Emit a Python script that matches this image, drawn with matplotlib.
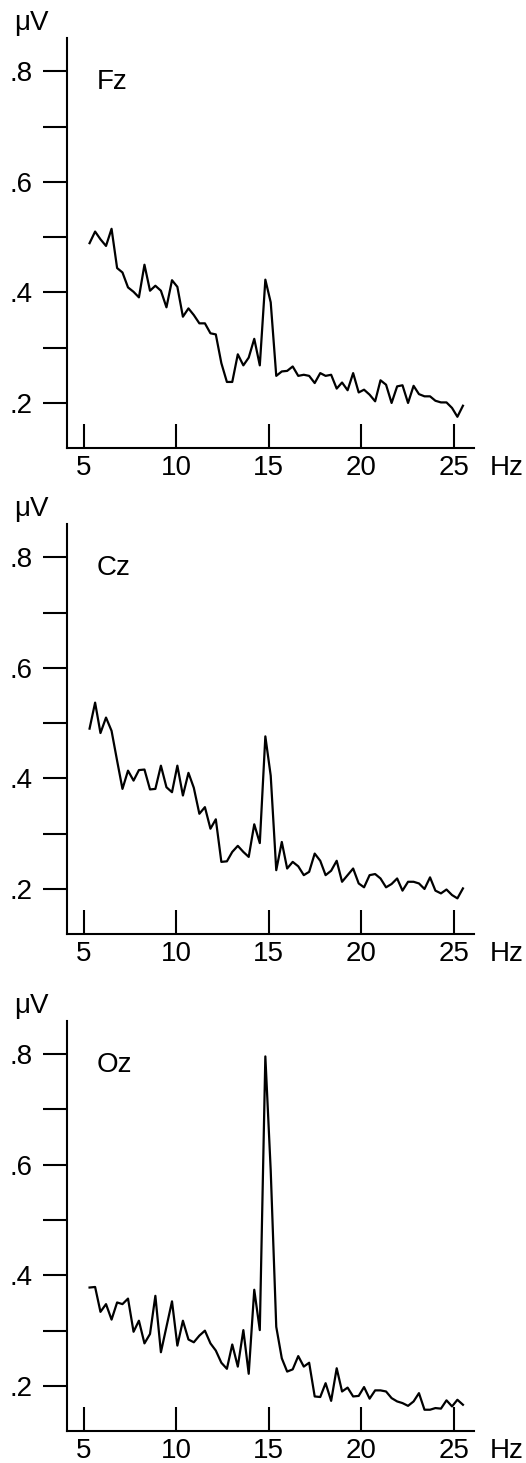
import matplotlib.pyplot as plt

plt.rcParams['font.family'] = ['Liberation Sans', 'DejaVu Sans']

# frequency bins (Hz)
freqs = [5.30, 5.60, 5.89, 6.19, 6.49, 6.79, 7.08, 7.38, 7.68, 7.97,
         8.27, 8.57, 8.86, 9.16, 9.46, 9.76, 10.05, 10.35, 10.65, 10.94,
         11.24, 11.54, 11.84, 12.13, 12.43, 12.73, 13.02, 13.32, 13.62, 13.91,
         14.21, 14.51, 14.81, 15.10, 15.40, 15.70, 15.99, 16.29, 16.59, 16.89,
         17.18, 17.48, 17.78, 18.07, 18.37, 18.67, 18.96, 19.26, 19.56, 19.86,
         20.15, 20.45, 20.75, 21.04, 21.34, 21.64, 21.94, 22.23, 22.53, 22.83,
         23.12, 23.42, 23.72, 24.01, 24.31, 24.61, 24.91, 25.20, 25.50]

# amplitude (uV) per electrode
fz = [0.489, 0.510, 0.496, 0.484, 0.515, 0.444, 0.436, 0.409, 0.401, 0.391,
      0.450, 0.403, 0.412, 0.403, 0.373, 0.422, 0.410, 0.356, 0.371, 0.359,
      0.344, 0.344, 0.326, 0.324, 0.272, 0.238, 0.238, 0.288, 0.268, 0.282,
      0.316, 0.268, 0.423, 0.382, 0.249, 0.257, 0.258, 0.266, 0.249, 0.251,
      0.249, 0.236, 0.254, 0.249, 0.251, 0.226, 0.237, 0.223, 0.254, 0.219,
      0.224, 0.215, 0.203, 0.241, 0.233, 0.200, 0.230, 0.232, 0.200, 0.231,
      0.216, 0.212, 0.212, 0.204, 0.201, 0.201, 0.191, 0.175, 0.195]

cz = [0.490, 0.537, 0.482, 0.510, 0.486, 0.432, 0.381, 0.414, 0.396, 0.415,
      0.416, 0.380, 0.381, 0.423, 0.384, 0.375, 0.423, 0.369, 0.410, 0.383,
      0.336, 0.348, 0.309, 0.326, 0.249, 0.250, 0.267, 0.278, 0.267, 0.258,
      0.317, 0.283, 0.476, 0.405, 0.234, 0.285, 0.237, 0.249, 0.241, 0.225,
      0.231, 0.264, 0.251, 0.225, 0.233, 0.251, 0.213, 0.225, 0.237, 0.210,
      0.203, 0.225, 0.227, 0.219, 0.203, 0.209, 0.219, 0.197, 0.213, 0.213,
      0.210, 0.200, 0.221, 0.197, 0.192, 0.199, 0.189, 0.183, 0.201]

oz = [0.378, 0.379, 0.334, 0.348, 0.320, 0.351, 0.348, 0.358, 0.298, 0.318,
      0.277, 0.294, 0.363, 0.261, 0.307, 0.353, 0.273, 0.318, 0.284, 0.279,
      0.291, 0.300, 0.277, 0.264, 0.242, 0.231, 0.275, 0.235, 0.301, 0.222,
      0.374, 0.301, 0.796, 0.590, 0.307, 0.250, 0.226, 0.230, 0.254, 0.235,
      0.242, 0.181, 0.180, 0.205, 0.173, 0.232, 0.190, 0.197, 0.181, 0.182,
      0.198, 0.177, 0.192, 0.192, 0.190, 0.178, 0.172, 0.169, 0.164, 0.172,
      0.187, 0.157, 0.157, 0.160, 0.159, 0.174, 0.163, 0.175, 0.166]

names = ['Fz', 'Cz', 'Oz']
yticks = [0.2, 0.3, 0.4, 0.5, 0.6, 0.7, 0.8]
ytick_labels = ['.2', '', '.4', '', '.6', '', '.8']
xticks = [5, 10, 15, 20, 25]

fig = plt.figure(figsize=(5.26, 14.63), dpi=100)
bottoms = [0.6938, 0.3616, 0.0219]

for name, vals, b in zip(names, [fz, cz, oz], bottoms):
    ax = fig.add_axes([0.1274, b, 0.7738, 0.2802])
    ax.plot(freqs, vals, color='black', linewidth=1.6)
    ax.set_xlim(4.08, 26.1)
    ax.set_ylim(0.1186, 0.86)
    ax.spines['top'].set_visible(False)
    ax.spines['right'].set_visible(False)
    ax.spines['left'].set_linewidth(1.5)
    ax.spines['bottom'].set_linewidth(1.5)
    ax.set_yticks(yticks)
    ax.set_yticklabels(ytick_labels)
    ax.set_xticks(xticks)
    ax.tick_params(axis='y', direction='out', length=17.5, width=1.5,
                   pad=7, labelsize=20)
    ax.tick_params(axis='x', direction='in', length=17.5, width=1.5,
                   pad=5, labelsize=20)
    ax.text(5.7, 0.78, name, fontsize=20, ha='left', va='center')
    ax.annotate('μV', xy=(0, 1), xycoords='axes fraction',
                xytext=(-26, 11), textcoords='offset points',
                ha='center', va='center', fontsize=20)
    ax.annotate('Hz', xy=(1, 0), xycoords='axes fraction',
                xytext=(11, -5), textcoords='offset points',
                ha='left', va='top', fontsize=20)

plt.savefig('out.png', dpi=100)
